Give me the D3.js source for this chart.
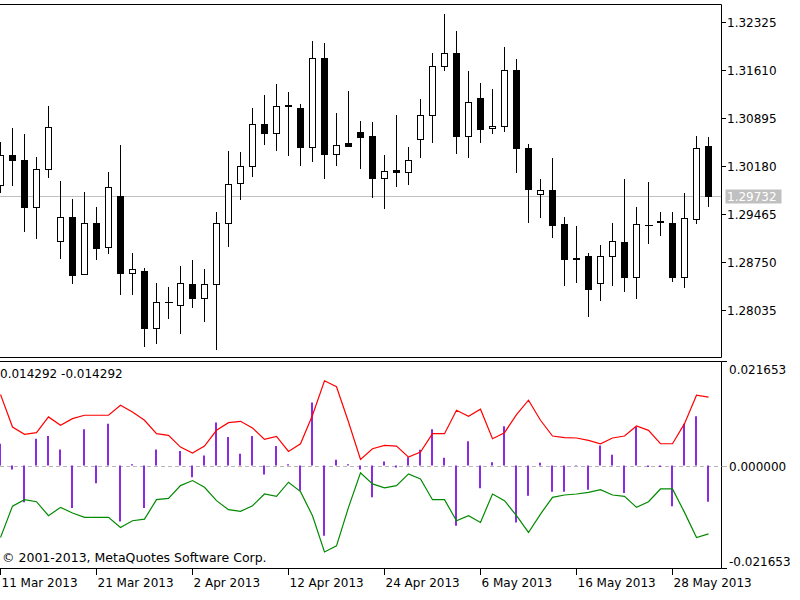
<!DOCTYPE html>
<html><head><meta charset="utf-8">
<script src="https://cdn.jsdelivr.net/npm/d3@7/dist/d3.min.js"></script>
<style>
body{margin:0;background:#fff}
svg{display:block}
text{font-family:"DejaVu Sans",sans-serif;font-size:12px;fill:#000}
</style>
</head><body><svg id="chart" width="800" height="600"></svg>
<script>
// ---- data (EURUSD daily, 11 Mar 2013 .. 31 May 2013) ----
const opens = [1.29897,1.30344,1.30269,1.29574,1.30135,1.29063,1.29425,1.28567,1.29335,1.28969,
 1.29738,1.28591,1.28616,1.27762,1.28150,1.28110,1.28418,1.28209,1.28418,1.29335,
 1.29931,1.30180,1.30806,1.30667,1.31096,1.31040,1.30468,1.31793,1.30354,1.30518,
 1.30691,1.30631,1.29997,1.30113,1.30086,1.30582,1.30940,1.31674,1.31859,1.30627,
 1.31188,1.30742,1.30780,1.31610,1.30453,1.29758,1.29823,1.29316,1.28813,1.28839,
 1.28433,1.28839,1.29043,1.28522,1.29308,1.29358,1.29335,1.28522,1.29391,1.30478];
const highs = [1.30542,1.30742,1.30652,1.30319,1.31078,1.29961,1.29688,1.29788,1.29565,1.30095,
 1.30493,1.28889,1.28665,1.28442,1.28373,1.28690,1.28780,1.28641,1.29490,1.30408,
 1.30384,1.31040,1.31238,1.31397,1.31278,1.31099,1.32042,1.32017,1.30965,1.31302,
 1.30855,1.30831,1.30344,1.30940,1.30468,1.31174,1.31859,1.32444,1.32195,1.31595,
 1.31412,1.31323,1.31948,1.31769,1.30508,1.29986,1.30295,1.29425,1.29291,1.28889,
 1.29003,1.29335,1.29986,1.29565,1.29946,1.29499,1.29490,1.29782,1.30631,1.30617];
const lows = [1.29797,1.29897,1.29212,1.29103,1.30012,1.28805,1.28433,1.28567,1.28790,1.28880,
 1.28273,1.28273,1.27499,1.27539,1.27920,1.27697,1.28075,1.27876,1.27450,1.28988,
 1.29688,1.30036,1.30508,1.30418,1.30344,1.30195,1.30259,1.29997,1.30195,1.30482,
 1.30146,1.29723,1.29550,1.29887,1.29912,1.30310,1.30533,1.31610,1.30378,1.30310,
 1.30533,1.30667,1.30706,1.30086,1.29350,1.29416,1.29127,1.28407,1.28457,1.27946,
 1.28184,1.28407,1.28323,1.28209,1.29038,1.29152,1.28471,1.28373,1.29327,1.29589];
const closes = [1.30344,1.30269,1.29574,1.30135,1.30765,1.29425,1.28556,1.29335,1.28963,1.29867,
 1.28591,1.28641,1.27762,1.28150,1.28152,1.28442,1.28209,1.28418,1.29335,1.29916,
 1.30185,1.30806,1.30667,1.31074,1.31081,1.30468,1.31793,1.30354,1.30493,1.30482,
 1.30617,1.29997,1.30110,1.30098,1.30269,1.30940,1.31674,1.31859,1.30627,1.31138,
 1.30731,1.30780,1.31610,1.30444,1.29837,1.29823,1.29301,1.28790,1.28798,1.28343,
 1.28839,1.29067,1.28522,1.29312,1.29294,1.29343,1.28522,1.29401,1.30453,1.29732];
const histogram = [0.00455,-0.00084,-0.00771,0.00561,0.00617,0.00336,-0.00890,0.00757,-0.00371,0.00876,
 -0.01170,0.00028,-0.00890,0.00336,0.00002,0.00301,-0.00245,0.00210,0.00897,0.00596,
 0.00245,0.00617,-0.00189,0.00406,0.00028,-0.00526,0.01317,-0.01472,0.00119,0.00028,
 -0.00084,-0.00666,0.00084,-0.00042,0.00175,0.00329,0.00757,0.00161,-0.01261,0.00505,
 -0.00476,0.00070,0.00820,-0.01191,-0.00631,0.00056,-0.00547,-0.00547,-0.00010,-0.00505,
 0.00420,0.00224,-0.00575,0.00806,-0.00030,-0.00030,-0.00855,0.00876,0.01030,-0.00757];
const upperBand = [0.01486,0.00806,0.00652,0.00687,0.01016,0.00841,0.00981,0.01051,0.01051,0.01051,
 0.01261,0.01121,0.00946,0.00666,0.00631,0.00385,0.00259,0.00406,0.00736,0.00897,
 0.00925,0.00785,0.00547,0.00610,0.00294,0.00455,0.01051,0.01773,0.01647,0.00911,
 0.00126,0.00350,0.00420,0.00406,0.00175,0.00280,0.00666,0.00666,0.01156,0.01030,
 0.01177,0.00561,0.00687,0.01065,0.01366,0.00946,0.00617,0.00582,0.00575,0.00526,
 0.00455,0.00575,0.00617,0.00827,0.00736,0.00455,0.00455,0.00876,0.01471,0.01429];
const lowerBand = [-0.01507,-0.00850,-0.00715,-0.00757,-0.01051,-0.00876,-0.00995,-0.01086,-0.01086,-0.01086,
 -0.01296,-0.01156,-0.01121,-0.00715,-0.00687,-0.00420,-0.00315,-0.00455,-0.00736,-0.00925,
 -0.00960,-0.00841,-0.00596,-0.00645,-0.00350,-0.00547,-0.01051,-0.01808,-0.01682,-0.00876,
 -0.00154,-0.00385,-0.00469,-0.00420,-0.00175,-0.00280,-0.00715,-0.00715,-0.01156,-0.01051,
 -0.01191,-0.00596,-0.00736,-0.01051,-0.01401,-0.01016,-0.00666,-0.00617,-0.00596,-0.00561,
 -0.00505,-0.00617,-0.00645,-0.00876,-0.00757,-0.00491,-0.00491,-0.00981,-0.01507,-0.01429];
const priceTicks = [1.32325,1.31610,1.30895,1.30180,1.29465,1.28750,1.28035];
const indicatorTicks = [0.021653,0.000000,-0.021653];
const dateTickIndex = [0,8,16,24,32,40,48,56];
const dateTickLabels = ["11 Mar 2013","21 Mar 2013","2 Apr 2013","12 Apr 2013","24 Apr 2013","6 May 2013","16 May 2013","28 May 2013"];
const lastPrice = 1.29732;
const indicatorLabel = "0.014292 -0.014292";
const copyrightText = "\u00a9 2001-2013, MetaQuotes Software Corp.";

// ---- layout ----
const paneRight = 721.5;
const pricePane = {top: 4.5, bottom: 357.5};
const indPane = {top: 361.5, bottom: 568.5};

const svg = d3.select("#chart");
const x = d3.scaleLinear().domain([0, 60]).range([0.5, 720.5]);
const yP = d3.scaleLinear().domain([1.28035, 1.32325]).range([310, 22]);
const yI = d3.scaleLinear().domain([-0.021653, 0.021653]).range([569, 362]);
const snap = v => Math.round(v) + 0.5;

const defs = svg.append("defs");
defs.append("clipPath").attr("id","clipP").append("rect")
  .attr("x",0).attr("y",pricePane.top).attr("width",paneRight).attr("height",pricePane.bottom-pricePane.top);
defs.append("clipPath").attr("id","clipI").append("rect")
  .attr("x",0).attr("y",indPane.top).attr("width",paneRight).attr("height",indPane.bottom-indPane.top);

// ---- price pane ----
const gP = svg.append("g").attr("clip-path","url(#clipP)");
gP.append("line").attr("x1",0).attr("x2",paneRight)
  .attr("y1",snap(yP(lastPrice))).attr("y2",snap(yP(lastPrice)))
  .attr("stroke","#c0c0c0").attr("stroke-width",1);

const idx = d3.range(opens.length);
const candles = gP.selectAll("g.c").data(idx).join("g").attr("class","c");
candles.append("line")
  .attr("x1",i=>x(i)).attr("x2",i=>x(i))
  .attr("y1",i=>Math.round(yP(highs[i]))).attr("y2",i=>Math.round(yP(lows[i]))+1)
  .attr("stroke","#000").attr("stroke-width",1);
candles.each(function(i){
  const g = d3.select(this);
  const yo = snap(yP(opens[i])), yc = snap(yP(closes[i]));
  const top = Math.min(yo,yc), bot = Math.max(yo,yc);
  if (bot - top < 1) {
    g.append("line").attr("x1",x(i)-3.5).attr("x2",x(i)+4.5).attr("y1",top).attr("y2",top)
      .attr("stroke","#000").attr("stroke-width",1);
  } else {
    g.append("rect").attr("x",x(i)-3).attr("width",6).attr("y",top).attr("height",bot-top)
      .attr("fill", closes[i] >= opens[i] ? "#fff" : "#000")
      .attr("stroke","#000").attr("stroke-width",1);
  }
});

// ---- indicator pane ----
const gI = svg.append("g").attr("clip-path","url(#clipI)");
gI.append("line").attr("x1",0).attr("x2",paneRight)
  .attr("y1",snap(yI(0))).attr("y2",snap(yI(0)))
  .attr("stroke","#b8b8b8").attr("stroke-width",1).attr("stroke-dasharray","4,3");
gI.selectAll("line.h").data(idx).join("line").attr("class","h")
  .attr("x1",i=>x(i)-0.5).attr("x2",i=>x(i)-0.5)
  .attr("y1",yI(0)).attr("y2",i=>yI(histogram[i]))
  .attr("stroke","#8A2BE2").attr("stroke-width",2);
const lineGen = arr => d3.line().x(i=>x(i)).y(i=>yI(arr[i]))(idx);
gI.append("path").attr("d",lineGen(upperBand)).attr("fill","none").attr("stroke","#ff0000").attr("stroke-width",1.2);
gI.append("path").attr("d",lineGen(lowerBand)).attr("fill","none").attr("stroke","#008a00").attr("stroke-width",1.2);

svg.append("text").attr("x",0).attr("y",378).text(indicatorLabel);
svg.append("text").attr("x",2).attr("y",561.5).style("font-size","12.5px").text(copyrightText);

// ---- frames ----
const frame = svg.append("g").attr("stroke","#000").attr("stroke-width",1).attr("fill","none");
frame.append("path").attr("d",`M0,${pricePane.top}H${paneRight}V${pricePane.bottom}H0`);
frame.append("path").attr("d",`M0,${indPane.top}H${paneRight}V${indPane.bottom}H0`);

// ---- price axis ----
const pAxis = svg.append("g");
priceTicks.forEach(t=>{
  const yy = snap(yP(t));
  pAxis.append("line").attr("x1",paneRight).attr("x2",726).attr("y1",yy).attr("y2",yy).attr("stroke","#000");
  pAxis.append("text").attr("x",727).attr("y",yy).attr("dy","0.36em").text(t.toFixed(5));
});
const ly = snap(yP(lastPrice));
pAxis.append("rect").attr("x",725.5).attr("y",ly-7).attr("width",56).attr("height",14).attr("fill","#c0c0c0");
pAxis.append("text").attr("x",727).attr("y",ly).attr("dy","0.36em").style("fill","#fff").text(lastPrice.toFixed(5));

// ---- indicator axis ----
const iAxis = svg.append("g");
indicatorTicks.forEach(t=>{
  const yy = t > 0 ? indPane.top : (t < 0 ? indPane.bottom : snap(yI(0)));
  iAxis.append("line").attr("x1",paneRight).attr("x2",727).attr("y1",yy).attr("y2",yy)
    .attr("stroke", t === 0 ? "#b8b8b8" : "#000");
  const ty = t > 0 ? yy + 12 : (t < 0 ? yy - 3 : yy + 4);
  iAxis.append("text").attr("x",729).attr("y",ty).text(t.toFixed(6));
});

// ---- time axis ----
const tAxis = svg.append("g");
dateTickIndex.forEach((k,j)=>{
  const xx = x(k);
  tAxis.append("line").attr("x1",xx).attr("x2",xx).attr("y1",indPane.bottom).attr("y2",575).attr("stroke","#000");
  tAxis.append("text").attr("x",xx+1).attr("y",587).text(dateTickLabels[j]);
});
</script>
</body></html>
